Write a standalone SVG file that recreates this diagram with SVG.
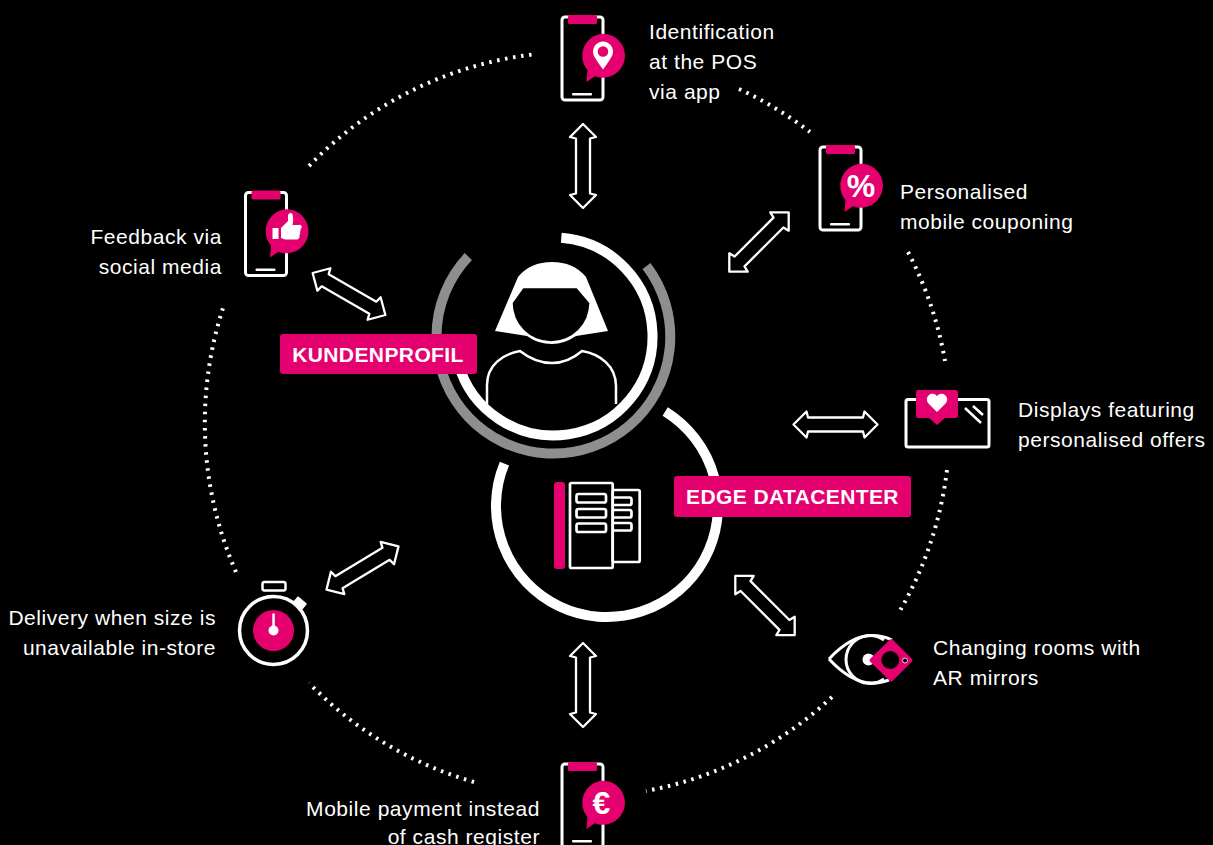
<svg xmlns="http://www.w3.org/2000/svg" width="1213" height="845" viewBox="0 0 1213 845">
<style>
.t{font-family:"Liberation Sans",Arial,sans-serif;font-size:21px;letter-spacing:.55px;fill:#fff;}
.e{text-anchor:end;}
.b{font-family:"Liberation Sans",Arial,sans-serif;font-size:21px;font-weight:700;letter-spacing:.4px;fill:#fff;text-anchor:middle;}
.g{font-family:"Liberation Sans",Arial,sans-serif;font-weight:700;fill:#fff;text-anchor:middle;dominant-baseline:central;}
.dot{fill:none;stroke:#fff;stroke-width:4;stroke-dasharray:2.500 5.600;}
.ol{fill:none;stroke:#fff;stroke-width:3;stroke-linejoin:round;}
.m{fill:#e5006f;}
.arr{fill:none;stroke:#fff;stroke-width:2.300;stroke-linejoin:round;}
</style>
<defs>
<g id="phone">
<rect x="562" y="17" width="41" height="83" rx="3" class="ol"/>
<rect x="568" y="15" width="29" height="9" rx="1.500" class="m"/>
<rect x="572" y="93" width="20" height="2.500" rx="1" fill="#fff"/>
<path d="M603 33.700a22 22 0 1 1 -8 42.500l-8.500 5.800l1-12a22 22 0 0 1 15.500 -36.300z" class="m"/>
</g>
<polygon id="arrow" points="-42,0 -29,-13 -27.500,-7 27.500,-7 29,-13 42,0 29,13 27.500,7 -27.500,7 -29,13" class="arr"/>
</defs>
<rect width="1213" height="845" fill="#000"/>
<g id="connectors">
<path class="dot" d="M309 166A372 372 0 0 1 537 54"/>
<path class="dot" d="M739 89A372 372 0 0 1 810 132"/>
<path class="dot" d="M908 252A372 372 0 0 1 945 361"/>
<path class="dot" d="M947 470A372 372 0 0 1 898 614"/>
<path class="dot" d="M832 697A372 372 0 0 1 646 791"/>
<path class="dot" d="M474 782A372 372 0 0 1 309 683"/>
<path class="dot" d="M236 572A372 372 0 0 1 224 305"/>
<use href="#arrow" transform="translate(583 166) rotate(90)"/>
<use href="#arrow" transform="translate(759 242) rotate(-45)"/>
<use href="#arrow" transform="translate(835.500 424.500)"/>
<use href="#arrow" transform="translate(765 605.500) rotate(45)"/>
<use href="#arrow" transform="translate(583 685) rotate(90)"/>
<use href="#arrow" transform="translate(362.500 568) rotate(-31)"/>
<use href="#arrow" transform="translate(349 294) rotate(30)"/>
</g>
<g id="kundenprofil">
<path d="M468.300 256.500A116.900 116.900 0 1 0 646.500 266" fill="none" stroke="#8c8e90" stroke-width="10"/>
<path d="M561.300 237.800A99 99 0 1 1 458 362.500" fill="none" stroke="#fff" stroke-width="10"/>
<path d="M495 331L518 277C526 267 538 262 552 262C566 262 578 267 586 277L608 331L576 336Q564 344 552 344Q538 344 527 336Z" fill="#fff"/>
<path d="M523.300 288.300H576.700L589.300 303A38.300 38.300 0 0 1 512.700 303Z" fill="#000"/>
<path d="M487 404V385C487 365 503 354 520 351Q535 363 552 363Q568 363 582 351C600 354 616 366 616 386V404" fill="none" stroke="#fff" stroke-width="2.500"/>
<rect x="280" y="334" width="197" height="40" rx="3" class="m"/>
<text x="378" y="361.500" class="b">KUNDENPROFIL</text>
</g>
<g id="edge-datacenter">
<path d="M665.200 411.500A111 111 0 1 1 504.400 463.600" fill="none" stroke="#fff" stroke-width="10"/>
<rect x="554" y="482" width="11" height="87" rx="3" class="m"/>
<g fill="none" stroke="#fff" stroke-width="2.700" stroke-linejoin="round">
<rect x="612.700" y="490" width="27" height="72" rx="1.500"/>
<rect x="570" y="483" width="42.700" height="85" rx="1.500"/>
<rect x="576.500" y="494" width="29.500" height="8.500" rx="2"/>
<rect x="576.500" y="509" width="29.500" height="8.500" rx="2"/>
<rect x="576.500" y="523.500" width="29.500" height="8.500" rx="2"/>
<path d="M612.700 497.500H629.500a2 2 0 0 1 2 2v3.500a2 2 0 0 1 -2 2H612.700M612.700 510H629.500a2 2 0 0 1 2 2v3.500a2 2 0 0 1 -2 2H612.700M612.700 523H629.500a2 2 0 0 1 2 2v3.500a2 2 0 0 1 -2 2H612.700"/>
</g>
<rect x="674" y="476" width="237" height="41" rx="3" class="m"/>
<text x="792.500" y="503.500" class="b">EDGE DATACENTER</text>
</g>
<g id="identification">
<use href="#phone"/>
<path d="M603 69.500Q596 60 593.800 55.500A10 10 0 1 1 612.200 55.500Q610 60 603 69.500Z" fill="#fff"/>
<circle cx="603" cy="51.500" r="5.300" class="m"/>
<text class="t" x="649" y="39">Identification</text>
<text class="t" x="649" y="69">at the POS</text>
<text class="t" x="649" y="99">via app</text>
</g>
<g id="coupon">
<use href="#phone" x="258" y="130"/>
<text x="861" y="185.500" class="g" font-size="32">%</text>
<text class="t" x="900" y="199">Personalised</text>
<text class="t" x="900" y="228.500">mobile couponing</text>
</g>
<g id="displays">
<rect x="906" y="399.500" width="83" height="47.500" rx="2" class="ol"/>
<path d="M918 390H956a2 2 0 0 1 2 2V416a2 2 0 0 1 -2 2H945L937 425L929 418H918a2 2 0 0 1 -2 -2V392a2 2 0 0 1 2 -2z" class="m"/>
<path d="M937 412L928 403A5.500 5.500 0 0 1 937 396A5.500 5.500 0 0 1 946 403Z" fill="#fff"/>
<path d="M965 408L981 423M973 406L983 415" stroke="#fff" stroke-width="2.500" fill="none"/>
<text class="t" x="1018" y="417">Displays featuring</text>
<text class="t" x="1018" y="447">personalised offers</text>
</g>
<g id="ar-mirrors">
<path d="M829 659C842 645 856 635.500 872 635.500C880 635.500 886 637 892 640M829 659C842 673 856 683 872 683C878 683 884 682 889 680" fill="none" stroke="#fff" stroke-width="3"/>
<path d="M884 640A24 24 0 1 0 884 679" fill="none" stroke="#fff" stroke-width="3"/>
<circle cx="868.500" cy="659.500" r="6" fill="#fff"/>
<path d="M890 639.500a2 2 0 0 1 2.500 0L912 659a2 2 0 0 1 0 2.500L892.500 681a2 2 0 0 1 -2.500 0L870 661.500a2 2 0 0 1 0 -2.500z" class="m"/>
<circle cx="890.300" cy="660" r="9" fill="#000"/>
<circle cx="905" cy="660.500" r="2.500" fill="#000" stroke="#fff" stroke-width=".8"/>
<text class="t" x="933" y="655">Changing rooms with</text>
<text class="t" x="933" y="684.500">AR mirrors</text>
</g>
<g id="payment">
<use href="#phone" y="747"/>
<text x="601.500" y="802.500" class="g" font-size="32">€</text>
<text class="t e" x="540" y="816">Mobile payment instead</text>
<text class="t e" x="540" y="844">of cash register</text>
</g>
<g id="delivery">
<rect x="262.500" y="582" width="23" height="8.500" rx="2" fill="none" stroke="#fff" stroke-width="2.500"/>
<rect x="294" y="599" width="12" height="8" rx="1" fill="#fff" transform="rotate(40 300 603)"/>
<circle cx="273.500" cy="630.500" r="34" fill="#000" stroke="#fff" stroke-width="3.500"/>
<circle cx="273.500" cy="630.500" r="20.500" class="m"/>
<rect x="272.300" y="613.500" width="2.500" height="16" fill="#fff"/>
<circle cx="273.500" cy="630.500" r="5" fill="#fff"/>
<text class="t e" x="216" y="625">Delivery when size is</text>
<text class="t e" x="216" y="655">unavailable in-store</text>
</g>
<g id="feedback">
<use href="#phone" x="-316.500" y="175.500"/>
<rect x="272.500" y="228" width="6" height="11" fill="#fff"/>
<path d="M281 228L288 221V215.500a2.500 2.500 0 0 1 4.500 -1.500Q294 220 292.500 225H298.500a2 2 0 0 1 2 4q0.500 2 -0.500 3q0.500 2 -0.500 3q0.500 3 -2 4.500H285L281 238Z" fill="#fff"/>
<text class="t e" x="222" y="244">Feedback via</text>
<text class="t e" x="222" y="274">social media</text>
</g>
</svg>
